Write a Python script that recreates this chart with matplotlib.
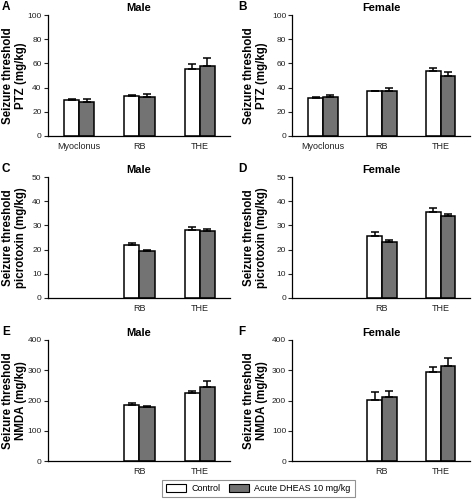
import matplotlib
matplotlib.use("Agg")
import matplotlib.pyplot as plt
import numpy as np
from matplotlib.patches import Patch

plt.rcParams['font.family'] = ['Liberation Sans', 'DejaVu Sans']

categories = ['Myoclonus', 'RB', 'THE']

# PTZ (mg/kg)
ptz_male_ctrl = [29.7, 33.0, 55.0]
ptz_male_ctrl_err = [0.8, 0.8, 4.3]
ptz_male_dheas = [28.3, 32.4, 58.0]
ptz_male_dheas_err = [2.2, 2.5, 6.3]
ptz_female_ctrl = [31.6, 37.1, 53.6]
ptz_female_ctrl_err = [0.8, 0.5, 2.7]
ptz_female_dheas = [31.9, 37.6, 49.2]
ptz_female_dheas_err = [1.9, 2.2, 3.5]

# picrotoxin (mg/kg), no myoclonus value
picro_male_ctrl = [np.nan, 21.9, 28.2]
picro_male_ctrl_err = [0, 0.9, 1.2]
picro_male_dheas = [np.nan, 19.6, 27.5]
picro_male_dheas_err = [0, 0.4, 1.1]
picro_female_ctrl = [np.nan, 25.5, 35.4]
picro_female_ctrl_err = [0, 1.7, 1.9]
picro_female_dheas = [np.nan, 23.3, 33.8]
picro_female_dheas_err = [0, 0.8, 0.9]

# NMDA (mg/kg)
nmda_male_ctrl = [np.nan, 185, 225]
nmda_male_ctrl_err = [0, 6, 6]
nmda_male_dheas = [np.nan, 178, 244]
nmda_male_dheas_err = [0, 5, 19]
nmda_female_ctrl = [np.nan, 203, 293]
nmda_female_ctrl_err = [0, 24, 18]
nmda_female_dheas = [np.nan, 210, 315]
nmda_female_dheas_err = [0, 21, 27]

panels = [
    ('A', 'Male', 'Seizure threshold\nPTZ (mg/kg)', 100, 20,
     ptz_male_ctrl, ptz_male_ctrl_err, ptz_male_dheas, ptz_male_dheas_err, True),
    ('B', 'Female', 'Seizure threshold\nPTZ (mg/kg)', 100, 20,
     ptz_female_ctrl, ptz_female_ctrl_err, ptz_female_dheas, ptz_female_dheas_err, True),
    ('C', 'Male', 'Seizure threshold\npicrotoxin (mg/kg)', 50, 10,
     picro_male_ctrl, picro_male_ctrl_err, picro_male_dheas, picro_male_dheas_err, False),
    ('D', 'Female', 'Seizure threshold\npicrotoxin (mg/kg)', 50, 10,
     picro_female_ctrl, picro_female_ctrl_err, picro_female_dheas, picro_female_dheas_err, False),
    ('E', 'Male', 'Seizure threshold\nNMDA (mg/kg)', 400, 100,
     nmda_male_ctrl, nmda_male_ctrl_err, nmda_male_dheas, nmda_male_dheas_err, False),
    ('F', 'Female', 'Seizure threshold\nNMDA (mg/kg)', 400, 100,
     nmda_female_ctrl, nmda_female_ctrl_err, nmda_female_dheas, nmda_female_dheas_err, False),
]

fig = plt.figure(figsize=(4.74, 5.0), dpi=100)

lefts = [0.101, 0.617]
widths = [0.384, 0.375]
bottoms = [0.728, 0.404, 0.078]
h = 0.242
grey = '#737373'
bw = 0.25

x = np.arange(len(categories))
for i, (letter, title, ylab, ymax, ystep, c, ce, d, de, show_myo) in enumerate(panels):
    col = i % 2
    ax = fig.add_axes([lefts[col], bottoms[i // 2], widths[col], h])
    ax.bar(x - bw / 2, c, bw, color='white', edgecolor='black', linewidth=1.1,
           yerr=[np.zeros(3), ce], capsize=3, error_kw=dict(elinewidth=1.1, capthick=1.1))
    ax.bar(x + bw / 2, d, bw, color=grey, edgecolor='black', linewidth=1.1,
           yerr=[np.zeros(3), de], capsize=3, error_kw=dict(elinewidth=1.1, capthick=1.1))
    ax.set_xlim(-0.52, 2.5)
    ax.set_ylim(0, ymax)
    ax.set_yticks(np.arange(0, ymax + 1, ystep))
    ax.set_xticks(x)
    if show_myo:
        ax.set_xticklabels(categories)
    else:
        ax.set_xticklabels([''] + categories[1:])
    ax.tick_params(axis='x', length=0, labelsize=6.5, pad=4, colors='#222222')
    ax.tick_params(axis='y', length=3, width=0.8, labelsize=6, pad=1.5, colors='#222222')
    for s in ['top', 'right']:
        ax.spines[s].set_visible(False)
    for s in ['left', 'bottom']:
        ax.spines[s].set_linewidth(0.9)
    ax.set_ylabel(ylab, fontsize=8.3, fontweight='bold', linespacing=1.1)
    ax.yaxis.set_label_coords([-0.115, -0.14][col], 0.5)
    ax.set_title(title, fontsize=8, fontweight='bold', pad=3)
    ax.text([-0.253, -0.305][col], 1.07, letter, transform=ax.transAxes, fontsize=8.5,
            fontweight='bold', va='center', ha='left')

handles = [Patch(facecolor='white', edgecolor='black', linewidth=0.8, label='Control'),
           Patch(facecolor=grey, edgecolor='black', linewidth=0.8, label='Acute DHEAS 10 mg/kg')]
leg = fig.legend(handles=handles, loc='center', bbox_to_anchor=(0.545, 0.023), ncol=2,
                 fontsize=6.5, frameon=True, fancybox=False, handlelength=2.2, handleheight=0.9,
                 columnspacing=1.0, handletextpad=0.6, borderpad=0.45)
leg.get_frame().set_edgecolor('#777777')
leg.get_frame().set_linewidth(0.8)

fig.savefig('out.png', dpi=100)
